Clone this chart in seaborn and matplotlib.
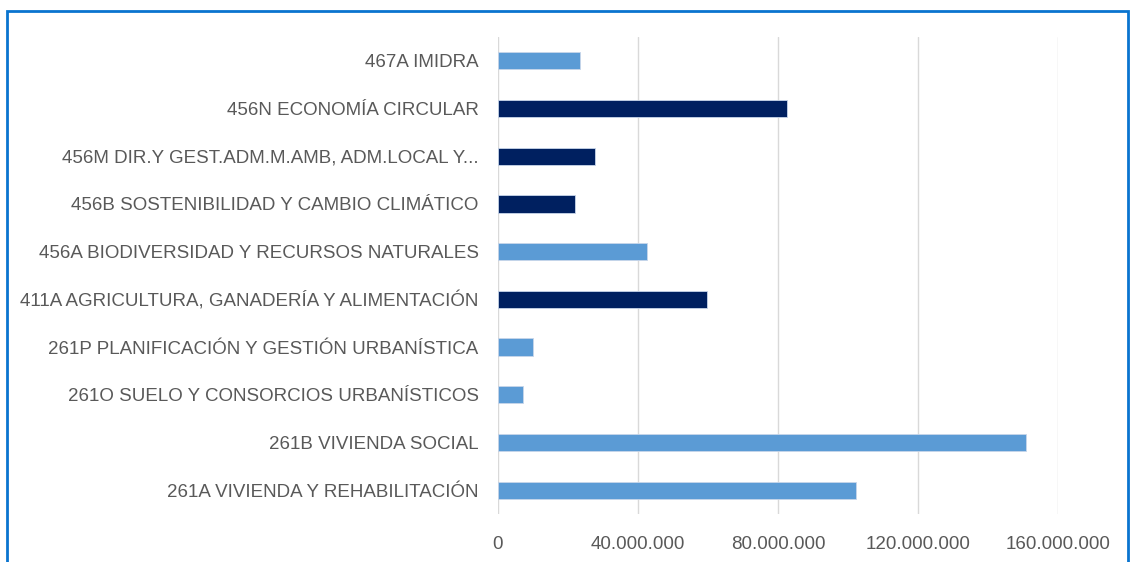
import matplotlib
matplotlib.use("Agg")
import matplotlib.pyplot as plt
import matplotlib.ticker as mticker
from matplotlib.patches import Rectangle
import seaborn as sns
import pandas as pd

programas = [
    "467A IMIDRA",
    "456N ECONOMÍA CIRCULAR",
    "456M DIR.Y GEST.ADM.M.AMB, ADM.LOCAL Y...",
    "456B SOSTENIBILIDAD Y CAMBIO CLIMÁTICO",
    "456A BIODIVERSIDAD Y RECURSOS NATURALES",
    "411A AGRICULTURA, GANADERÍA Y ALIMENTACIÓN",
    "261P PLANIFICACIÓN Y GESTIÓN URBANÍSTICA",
    "261O SUELO Y CONSORCIOS URBANÍSTICOS",
    "261B VIVIENDA SOCIAL",
    "261A VIVIENDA Y REHABILITACIÓN",
]
importes = [23.3e6, 82.7e6, 27.6e6, 22.1e6, 42.6e6, 59.7e6, 10.0e6, 7.1e6, 150.9e6, 102.3e6]
grupo = ["claro", "oscuro", "oscuro", "oscuro", "claro", "oscuro", "claro", "claro", "claro", "claro"]
colores = {"claro": "#5B9BD5", "oscuro": "#002060"}

df = pd.DataFrame({"programa": programas, "importe": importes, "grupo": grupo})

sns.set_theme(style="white")
plt.rcParams["font.family"] = ["Liberation Sans", "DejaVu Sans"]

fig = plt.figure(figsize=(11.3, 5.62), dpi=100)
ax = fig.add_axes([0.4407, 0.0854, 0.4956, 0.8488])

sns.barplot(data=df, y="programa", x="importe", hue="grupo", palette=colores,
            saturation=1, dodge=False, legend=False, width=0.36, ax=ax,
            edgecolor="#c8d6ea", linewidth=0.6)

ax.set_xlim(0, 160e6)
ax.set_xticks([0, 40e6, 80e6, 120e6, 160e6])
ax.xaxis.set_major_formatter(mticker.FuncFormatter(lambda v, p: f"{int(v):,}".replace(",", ".")))
ax.set_xlabel("")
ax.set_ylabel("")
ax.grid(axis="x", color="#d9d9d9", linewidth=1)
ax.set_axisbelow(True)
for s in ax.spines.values():
    s.set_visible(False)
ax.tick_params(axis="y", length=0, pad=14, labelsize=13.5, labelcolor="#595959")
ax.tick_params(axis="x", length=0, pad=16, labelsize=13.5, labelcolor="#595959")

# marco azul
fig.add_artist(Rectangle((7 / 1130, -0.05), 1121 / 1130, 1.05 - 11 / 562,
                         transform=fig.transFigure, fill=False,
                         edgecolor="#0A74CF", linewidth=2))

fig.savefig("out.png", dpi=100)
